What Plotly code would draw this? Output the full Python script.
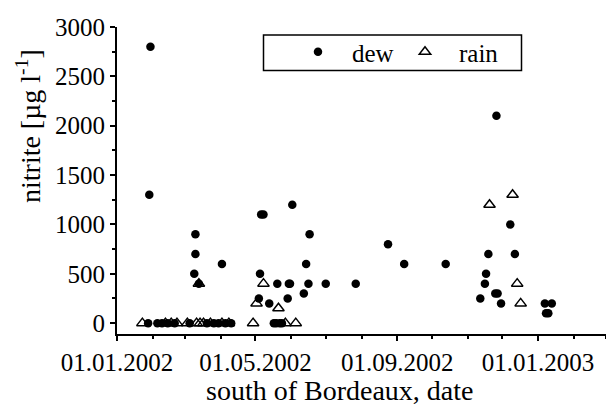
import plotly.graph_objects as go

# ---- data ----
dew_dates = ["2002-01-30", "2002-01-29", "2002-01-28", "2002-02-05", "2002-02-09", "2002-02-14",
             "2002-02-20", "2002-03-05", "2002-03-10", "2002-03-10", "2002-03-09", "2002-03-13",
             "2002-03-20", "2002-03-26", "2002-03-30", "2002-04-02", "2002-04-05", "2002-04-10",
             "2002-05-06", "2002-05-08", "2002-05-05", "2002-05-04", "2002-05-13", "2002-05-20",
             "2002-05-17", "2002-05-19", "2002-05-22", "2002-05-24", "2002-05-29", "2002-05-30",
             "2002-05-31", "2002-06-02", "2002-06-12", "2002-06-14", "2002-06-17", "2002-06-16",
             "2002-07-01", "2002-07-27", "2002-08-24", "2002-09-07", "2002-10-13", "2002-11-26",
             "2002-12-08", "2002-11-19", "2002-12-12", "2002-11-17", "2002-11-16", "2002-11-12",
             "2002-11-25", "2002-11-27", "2002-11-30", "2003-01-07", "2003-01-13", "2003-01-08",
             "2003-01-10"]
dew_values = [2800, 1300, 0, 0, 0, 0,
              0, 0, 900, 700, 500, 400,
              0, 0, 0, 600, 0, 0,
              1100, 1100, 500, 250, 200, 400,
              0, 0, 0, 0, 250, 400,
              400, 1200, 300, 600, 900, 400,
              400, 400, 800, 600, 600, 2100,
              1000, 700, 700, 500, 400, 250,
              300, 300, 200, 200, 200, 100,
              100]

rain_dates = ["2002-01-23", "2002-02-12", "2002-02-17", "2002-02-22", "2002-03-03", "2002-03-11",
              "2002-03-13", "2002-03-14", "2002-03-17", "2002-03-23", "2002-04-02", "2002-04-08",
              "2002-04-29", "2002-05-08", "2002-05-02", "2002-05-21", "2002-05-27", "2002-06-05",
              "2002-11-20", "2002-12-10", "2002-12-14", "2002-12-17"]
rain_values = [0, 0, 0, 0, 0, 0,
               400, 0, 0, 0, 0, 0,
               0, 400, 200, 150, 0, 0,
               1200, 1300, 400, 200]

series_names = ["dew", "rain"]
x_title = "south of Bordeaux, date"
y_title = "nitrite [µg l<sup>-1</sup>]"
x_range = ["2002-01-01", "2003-03-01"]
y_range = [-110, 3000]

FONT = '"Times New Roman", "Liberation Serif", "DejaVu Serif", serif'
W, H = 606, 406
ML, MR, MT, MB = 117, 0, 27, 72
PW, PH = W - ML - MR, H - MT - MB


def px_x(p):
    return (p - ML) / PW


def px_y(p):
    return (H - MB - p) / PH


fig = go.Figure()
fig.add_trace(go.Scatter(
    x=dew_dates, y=dew_values, mode="markers", name=series_names[0],
    marker=dict(symbol="circle", size=8.5, color="black", line=dict(width=0)),
))
fig.add_trace(go.Scatter(
    x=rain_dates, y=rain_values, mode="markers", name=series_names[1],
    marker=dict(symbol="triangle-up-open", size=10, color="black", line=dict(width=1.5, color="black")),
))

fig.update_layout(
    width=W, height=H,
    margin=dict(l=ML, r=MR, t=MT, b=MB, pad=0),
    paper_bgcolor="white", plot_bgcolor="white",
    font=dict(family=FONT, size=25, color="black"),
    showlegend=True,
    legend=dict(
        orientation="h", x=px_x(284), y=px_y(29), xanchor="left", yanchor="top",
        bgcolor="rgba(0,0,0,0)", borderwidth=0, itemwidth=58,
        entrywidth=34, entrywidthmode="pixels",
        font=dict(family=FONT, size=25, color="black"),
    ),
    xaxis=dict(
        type="date", range=x_range, tick0="2002-01-01", dtick="M4", tickformat="%d.%m.%Y",
        showline=True, linecolor="black", linewidth=2, ticks="outside", ticklen=5,
        tickwidth=1.5, tickcolor="black", showgrid=False, zeroline=False,
        minor=dict(dtick="M1", ticks="outside", ticklen=3, tickwidth=1.5, tickcolor="black", showgrid=False),
        tickfont=dict(family=FONT, size=25, color="black"),
    ),
    yaxis=dict(
        range=y_range, tick0=0, dtick=500,
        showline=True, linecolor="black", linewidth=2, ticks="outside", ticklen=5,
        tickwidth=1.5, tickcolor="black", showgrid=False, zeroline=False,
        minor=dict(dtick=250, ticks="outside", ticklen=3, tickwidth=1.5, tickcolor="black", showgrid=False),
        tickfont=dict(family=FONT, size=25, color="black"),
    ),
    shapes=[dict(
        type="rect", xref="paper", yref="paper",
        x0=px_x(263.5), x1=px_x(521.5), y0=px_y(70.5), y1=px_y(35),
        line=dict(color="black", width=1.5), fillcolor="rgba(0,0,0,0)", layer="above",
    )],
    annotations=[
        dict(text=x_title, xref="paper", yref="paper", x=px_x(340), y=px_y(390),
             xanchor="center", yanchor="middle", showarrow=False,
             font=dict(family=FONT, size=28, color="black")),
        dict(text=y_title, xref="paper", yref="paper", x=px_x(28), y=px_y(126),
             xanchor="center", yanchor="middle", showarrow=False, textangle=-90,
             font=dict(family=FONT, size=28, color="black")),
    ],
)

fig.write_html("out.html")
